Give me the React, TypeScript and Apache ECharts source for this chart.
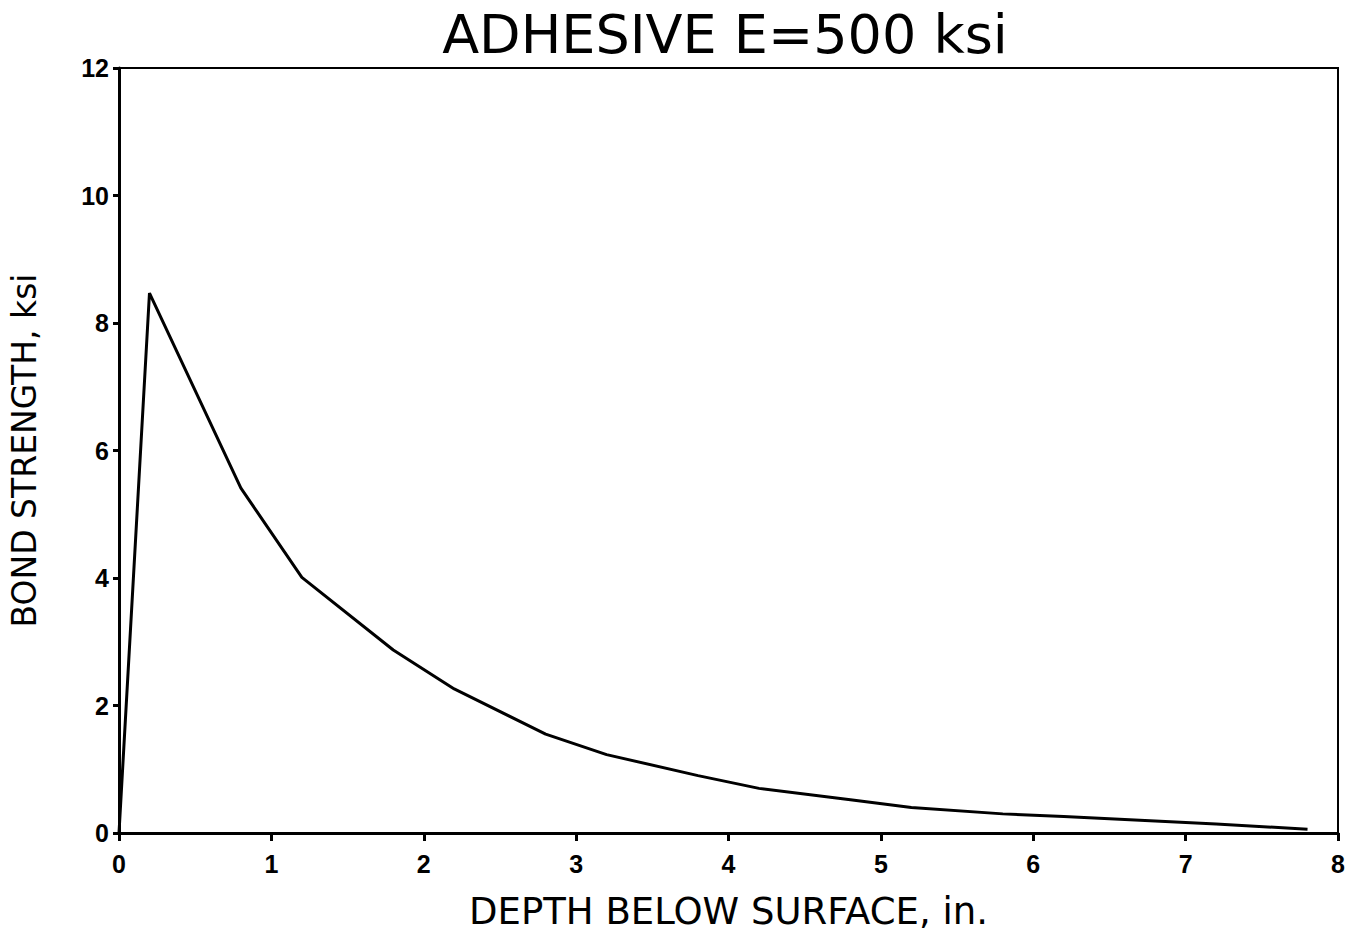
import React, { useEffect, useRef } from "react";
import * as echarts from "echarts";

const depth = [0, 0.2, 0.8, 1.2, 1.8, 2.2, 2.8, 3.2, 3.8, 4.2, 4.8, 5.2, 5.8, 6.2, 6.8, 7.2, 7.8];
const strength = [0, 8.47, 5.41, 4.01, 2.87, 2.26, 1.55, 1.23, 0.9, 0.7, 0.52, 0.4, 0.3, 0.26, 0.19, 0.14, 0.06];

const titleText = "ADHESIVE E=500 ksi";
const xName = "DEPTH BELOW SURFACE, in.";
const yName = "BOND STRENGTH, ksi";

export default function App() {
  const ref = useRef<HTMLDivElement>(null);
  useEffect(() => {
    if (!ref.current) return;
    const chart = echarts.init(ref.current, undefined, { renderer: "svg" });
    const data = depth.map((d, i) => [d, strength[i]]);
    chart.setOption({
      animation: false,
      backgroundColor: "#fff",
      title: {
        text: titleText,
        left: 720,
        textAlign: "center",
        top: 2,
        textStyle: {
          fontFamily: "DejaVu Sans, sans-serif",
          fontWeight: "normal",
          fontSize: 54,
          color: "#000",
        },
      },
      grid: {
        left: 119,
        right: 15,
        top: 68,
        bottom: 98,
        show: true,
        borderColor: "#000",
        borderWidth: 2,
        backgroundColor: "transparent",
      },
      xAxis: {
        type: "value",
        min: 0,
        max: 8,
        interval: 1,
        name: xName,
        nameLocation: "middle",
        nameGap: 60,
        nameTextStyle: {
          fontFamily: "DejaVu Sans, sans-serif",
          fontSize: 37,
          color: "#000",
        },
        axisLine: { show: true, lineStyle: { color: "#000", width: 3 } },
        axisTick: { show: true, inside: false, length: 8, lineStyle: { color: "#000", width: 3 } },
        axisLabel: {
          margin: 18,
          fontFamily: "Liberation Sans, sans-serif",
          fontWeight: "bold",
          fontSize: 25,
          color: "#000",
        },
        splitLine: { show: false },
      },
      yAxis: {
        type: "value",
        min: 0,
        max: 12,
        interval: 2,
        name: yName,
        nameLocation: "middle",
        nameGap: 78,
        nameTextStyle: {
          fontFamily: "DejaVu Sans, sans-serif",
          fontSize: 33,
          color: "#000",
        },
        axisLine: { show: true, lineStyle: { color: "#000", width: 3 } },
        axisTick: { show: true, inside: false, length: 6, lineStyle: { color: "#000", width: 3 } },
        axisLabel: {
          margin: 10,
          fontFamily: "Liberation Sans, sans-serif",
          fontWeight: "bold",
          fontSize: 25,
          color: "#000",
        },
        splitLine: { show: false },
      },
      series: [
        {
          type: "line",
          data,
          showSymbol: false,
          symbol: "none",
          lineStyle: { color: "#000", width: 3 },
        },
      ],
    });
    return () => chart.dispose();
  }, []);
  return (
    <div
      ref={ref}
      style={{ position: "fixed", left: 0, top: 0, width: 1353, height: 935, background: "#fff" }}
    />
  );
}
